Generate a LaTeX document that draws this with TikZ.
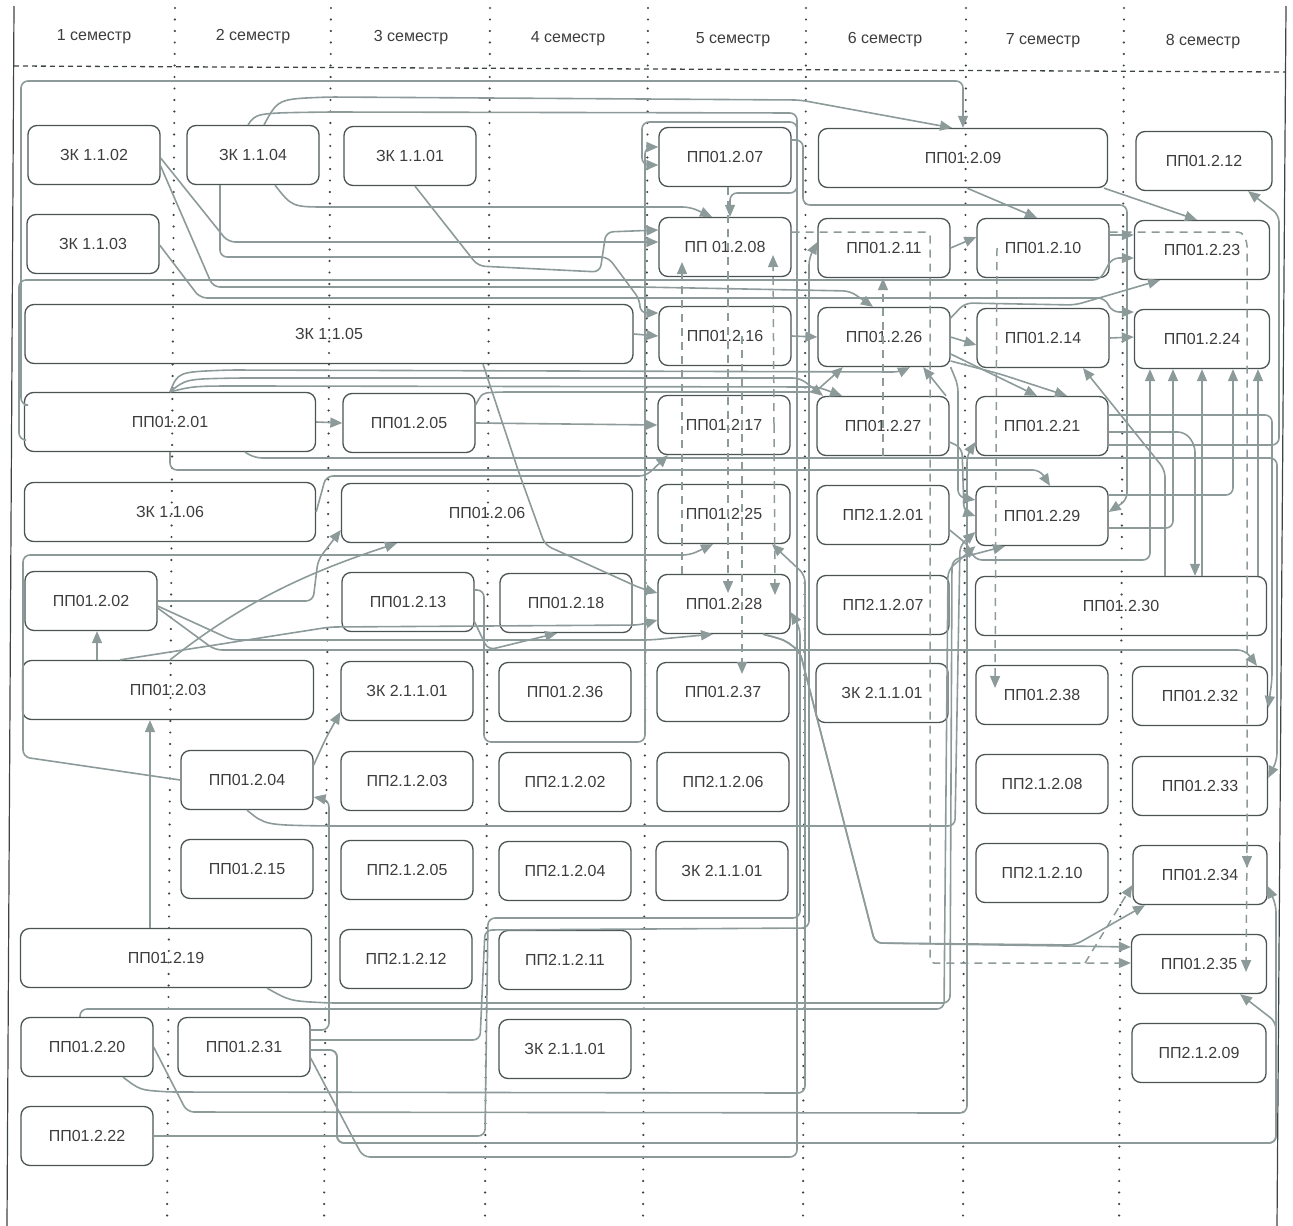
\documentclass[tikz,border=0pt]{standalone}
\usepackage{fontspec}
\setmainfont{Liberation Sans}
\usetikzlibrary{arrows.meta}
\definecolor{frameK}{HTML}{3E4444}
\definecolor{boxK}{HTML}{4B5353}
\definecolor{txtK}{HTML}{3D3D3D}
\definecolor{lnK}{HTML}{8D9A9A}

\tikzset{
  blk/.style={draw=boxK, line width=1.3pt, rounded corners=9pt, minimum width=132pt,
              minimum height=59pt, inner sep=0pt, text=txtK, font=\fontsize{16}{19}\selectfont},
  wblk/.style={blk, minimum width=291pt},
  sem/.style={text=txtK, font=\fontsize{16}{19}\selectfont},
  divl/.style={draw=frameK, line width=2.4pt, line cap=round, dash pattern=on 0pt off 11.5pt},
  link/.style={draw=lnK, line width=1.6pt, rounded corners=7pt},
  arr/.style={link, -{Triangle[length=12pt,width=10pt]}},
  dlink/.style={draw=lnK, line width=1.5pt, dash pattern=on 8pt off 6pt, rounded corners=4pt},
  darr/.style={dlink, -{Triangle[length=12pt,width=10pt]}},
}

\begin{document}
\begin{tikzpicture}[x=1pt,y=-1pt]
\useasboundingbox (0,0) rectangle (1293,1226);

% frame and columns
\draw[frameK, line width=1.2pt] (14,6) -- (7,1226);
\draw[frameK, line width=1.2pt] (1286,6) -- (1277,1226);
\draw[frameK, line width=1.3pt, dash pattern=on 5pt off 4pt] (14,66) -- (1286,72);
\foreach \xa/\xb in {175/167,331/324,490/485,648/643,806/803,966/963,1124/1119}
  \draw[divl] (\xa,8) -- (\xb,1226);

\node[sem] (s1) at (94,37) {1 семестр};
\node[sem] (s2) at (253,37) {2 семестр};
\node[sem] (s3) at (411,38) {3 семестр};
\node[sem] (s4) at (568,39) {4 семестр};
\node[sem] (s5) at (733,40) {5 семестр};
\node[sem] (s6) at (885,40) {6 семестр};
\node[sem] (s7) at (1043,41) {7 семестр};
\node[sem] (s8) at (1203,42) {8 семестр};

% semester 1
\node[blk] (zk102) at (94,155) {ЗК 1.1.02};
\node[blk] (zk103) at (93,244) {ЗК 1.1.03};
\node[blk, minimum width=608pt] (zk105) at (329,334) {ЗК 1.1.05};
\node[wblk] (pp201) at (170,422) {ПП01.2.01};
\node[wblk] (zk106) at (170,512) {ЗК 1.1.06};
\node[blk] (pp202) at (91,601) {ПП01.2.02};
\node[wblk] (pp203) at (168,690) {ПП01.2.03};
\node[wblk] (pp219) at (166,958) {ПП01.2.19};
\node[blk] (pp220) at (87,1047) {ПП01.2.20};
\node[blk] (pp222) at (87,1136) {ПП01.2.22};
% semester 2
\node[blk] (zk104) at (253,155) {ЗК 1.1.04};
\node[blk] (pp204) at (247,780) {ПП01.2.04};
\node[blk] (pp215) at (247,869) {ПП01.2.15};
\node[blk] (pp231) at (244,1047) {ПП01.2.31};
% semester 3
\node[blk] (zk101) at (410,156) {ЗК 1.1.01};
\node[blk] (pp205) at (409,423) {ПП01.2.05};
\node[wblk] (pp206) at (487,513) {ПП01.2.06};
\node[blk] (pp213) at (408,602) {ПП01.2.13};
\node[blk] (zkc3) at (407,691) {ЗК 2.1.1.01};
\node[blk] (pq203) at (407,781) {ПП2.1.2.03};
\node[blk] (pq205) at (407,870) {ПП2.1.2.05};
\node[blk] (pq212) at (406,959) {ПП2.1.2.12};
% semester 4
\node[blk] (pp218) at (566,603) {ПП01.2.18};
\node[blk] (pp236) at (565,692) {ПП01.2.36};
\node[blk] (pq202) at (565,782) {ПП2.1.2.02};
\node[blk] (pq204) at (565,871) {ПП2.1.2.04};
\node[blk] (pq211) at (565,960) {ПП2.1.2.11};
\node[blk] (zkc4) at (565,1049) {ЗК 2.1.1.01};
% semester 5
\node[blk] (pp207) at (725,157) {ПП01.2.07};
\node[blk] (pp208) at (725,247) {ПП 01.2.08};
\node[blk] (pp216) at (725,336) {ПП01.2.16};
\node[blk] (pp217) at (724,425) {ПП01.2.17};
\node[blk] (pp225) at (724,514) {ПП01.2.25};
\node[blk] (pp228) at (724,604) {ПП01.2.28};
\node[blk] (pp237) at (723,692) {ПП01.2.37};
\node[blk] (pq206) at (723,782) {ПП2.1.2.06};
\node[blk] (zkc5) at (722,871) {ЗК 2.1.1.01};
% semester 6
\node[blk, minimum width=289pt] (pp209) at (963,158) {ПП01.2.09};
\node[blk] (pp211) at (884,248) {ПП01.2.11};
\node[blk] (pp226) at (884,337) {ПП01.2.26};
\node[blk] (pp227) at (883,426) {ПП01.2.27};
\node[blk] (pq201) at (883,515) {ПП2.1.2.01};
\node[blk] (pq207) at (883,605) {ПП2.1.2.07};
\node[blk] (zkc6) at (882,693) {ЗК 2.1.1.01};
% semester 7
\node[blk] (pp210) at (1043,248) {ПП01.2.10};
\node[blk] (pp214) at (1043,338) {ПП01.2.14};
\node[blk] (pp221) at (1042,426) {ПП01.2.21};
\node[blk] (pp229) at (1042,516) {ПП01.2.29};
\node[wblk] (pp230) at (1121,606) {ПП01.2.30};
\node[blk] (pp238) at (1042,695) {ПП01.2.38};
\node[blk] (pq208) at (1042,784) {ПП2.1.2.08};
\node[blk] (pq210) at (1042,873) {ПП2.1.2.10};
% semester 8
\node[blk, minimum width=136pt] (pp212) at (1204,161) {ПП01.2.12};
\node[blk, minimum width=135pt] (pp223) at (1202,250) {ПП01.2.23};
\node[blk, minimum width=135pt] (pp224) at (1202,339) {ПП01.2.24};
\node[blk, minimum width=135pt] (pp232) at (1200,696) {ПП01.2.32};
\node[blk, minimum width=135pt] (pp233) at (1200,786) {ПП01.2.33};
\node[blk, minimum width=134pt] (pp234) at (1200,875) {ПП01.2.34};
\node[blk, minimum width=135pt] (pp235) at (1199,964) {ПП01.2.35};
\node[blk, minimum width=134pt] (pq209) at (1199,1053) {ПП2.1.2.09};

\coordinate (d28a) at (728,593);
\coordinate (d28b) at (775,595);
\coordinate (d37) at (742,674);
\coordinate (d08a) at (682,262);
\coordinate (d08b) at (773,255);
\coordinate (d34) at (1247,868);
\coordinate (d35) at (1246,972);
\coordinate (d38) at (995,688);
\coordinate (dj) at (1085,963);

% top band
\draw[arr] (pp201.west |- 0,405) -- (21,405) -- (21,81) -- (963,81) -- (pp209.north -| 963,0);
\draw[arr] (zk104.north -| 264,0) .. controls (278,99) .. (330,97) -- (800,100) -- (pp209.north -| 952,0);
\draw[arr] (zk104.north -| 248,0) .. controls (256,113) .. (330,112) -- (797,113) -- (797,193) -- (730,193) -- (pp208.north -| 730,0);
\draw[arr] (zk104.south -| 275,0) .. controls (292,207) .. (335,207) -- (690,207) -- (pp208.north -| 712,0);
\draw[arr] (zk104.south -| 220,0) -- (220,257) -- (608,257) -- (640,300) -- (640,313) -- (pp216.west |- 0,313);
\draw[arr] (zk102.east |- 0,158) -- (228,242) -- (pp208.west |- 0,242);
\draw[arr] (zk101.south -| 415,0) -- (478,266) -- (600,272) -- (606,232) -- (pp208.west |- 0,230);
\draw[arr] (zk102.east |- 0,166) -- (213,287) -- (640,287) -- (850,291) -- (pp226.north -| 873,0);
\draw[arr] (zk103.east |- 0,245) -- (200,298) -- (1105,298) -- (1112,312) -- (pp224.west |- 0,312);
\draw[arr] (pp201.west |- 0,440) -- (19,440) -- (19,280) -- (1100,280) -- (1112,258) -- (pp223.west |- 0,258);
\draw[arr] (pp207.east |- 0,140) -- (803,140) -- (803,205) -- (1127,205) -- (1127,500) -- (pp229.east |- 0,512);

% middle, semesters 5 to 8
\draw[arr] (zk105.east) -- (pp216.west);
\draw[arr] (pp216.east) -- (pp226.west);
\draw[arr] (pp211.east) -- (pp210.west |- 0,237);
\draw[arr] (pp209.south -| 967,0) -- (pp210.north -| 1037,0);
\draw[arr] (pp209.south -| 1104,0) -- (pp223.north -| 1197,0);
\draw[arr] (pp210.east |- 0,235) -- (pp223.west |- 0,235);
\draw[arr] (pp214.east) -- (pp224.west |- 0,337);
\draw[arr] (pp226.east) -- (pp214.west |- 0,345);
\draw[arr] (pp226.east |- 0,318) -- (965,303) -- (1075,305) -- (pp223.south -| 1160,0);
\draw[arr] (pp226.east |- 0,354) -- (pp221.north -| 1037,0);
\draw[arr] (pp226.east |- 0,361) -- (1000,374) -- (pp221.north -| 1067,0);
\draw[arr] (pp227.north -| 946,0) -- (pp226.south -| 923,0);
\draw[arr] (pp230.north -| 1165,0) -- (1165,470) -- (pp214.south -| 1083,0);
\draw[arr] (pp221.east |- 0,445) -- (1279,445) -- (1279,215) -- (pp212.south -| 1248,0);
\draw[arr] (pp221.east |- 0,415) -- (1272,415) -- (1272,680) -- (pp232.east |- 0,708);
\draw[arr] (pp201.south -| 245,0) -- (255,458) -- (1277,458) -- (1277,760) -- (pp233.east |- 0,778);
\draw[arr] (pp202.east |- 0,608) -- (215,650) -- (1245,650) -- (pp232.north -| 1257,0);
\draw[arr] (pp221.east |- 0,432) -- (1185,432) -- (1195,445) -- (pp230.north -| 1195,0);
\draw[arr] (pq201.east |- 0,530) -- (968,545) -- (975,560) -- (1150,560) -- (pp224.south -| 1150,0);
\draw[arr] (pp229.east |- 0,528) -- (1173,528) -- (pp224.south -| 1173,0);
\draw[arr] (pp230.north -| 1202,0) -- (pp224.south -| 1202,0);
\draw[arr] (pp229.east |- 0,495) -- (1233,495) -- (pp224.south -| 1233,0);
\draw[arr] (pp230.north -| 1258,0) -- (pp224.south -| 1258,0);

% from semester 1
\draw[arr] (pp201.north) .. controls (178,372) .. (230,370) -- (900,372) -- (pp226.south -| 910,0);
\draw[arr] (pp201.north) .. controls (186,379) .. (240,378) -- (800,378) -- (pp227.north -| 823,0);
\draw[arr] (pp201.north) .. controls (194,386) .. (250,386) -- (818,387) -- (pp227.north -| 842,0);
\draw[arr] (pp205.east |- 0,405) .. controls (482,393) .. (500,392) -- (815,392) -- (pp226.south -| 843,0);
\draw[arr] (pp201.east) -- (pp205.west);
\draw[arr] (pp205.east) -- (pp217.west);
\draw[arr] (pp201.south) -- (170,470) -- (1040,470) -- (pp229.north -| 1050,0);
\draw[arr] (zk106.east) -- (326,476) -- (646,476) -- (pp217.south -| 668,0);
\draw[arr] (pp203.north -| 97,0) -- (pp202.south -| 97,0);
\draw[arr] (pp219.north -| 150,0) -- (pp203.south -| 150,0);
\draw[arr] (pp202.east) -- (313,601) -- (318,560) -- (pp206.west |- 0,530);
\draw[arr] (pp202.east |- 0,606) -- (232,640) -- (650,640) -- (pp228.south -| 713,0);
\draw[arr] (pp203.north -| 170,0) .. controls (240,605) and (300,575) .. (pp206.south -| 397,0);
\draw[arr] (pp203.north -| 120,0) -- (330,627) -- (640,625) -- (pp228.west |- 0,620);
\draw[arr] (pp213.east |- 0,622) -- (488,650) -- (pp218.south -| 557,0);
\draw[arr] (pp213.east |- 0,590) -- (484,590) -- (484,742) -- (645,742) -- (645,147) -- (pp207.west |- 0,147);
\draw[arr] (zk105.south -| 483,0) -- (518,470) -- (545,545) -- (640,588) -- (pp228.west |- 0,593);
\draw[arr] (pp204.west) -- (23,757) -- (23,555) -- (690,555) -- (pp225.south -| 713,0);
\draw[arr] (pp204.east |- 0,765) -- (326,738) -- (zkc3.west |- 0,712);
\draw[arr] (pp231.east |- 0,1030) -- (329,1030) -- (329,800) -- (pp204.east |- 0,797);
\draw[arr] (pp204.south) .. controls (265,825) .. (330,826) -- (955,826) -- (960,545) -- (pp229.west |- 0,532);
\draw[arr] (pp226.south east) -- (958,385) -- (958,497) -- (pp229.west |- 0,500);
\draw[arr] (pp227.east |- 0,442) -- (962,448) -- (964,512) -- (pp229.west |- 0,516);

% bottom band
\draw[arr] (pp219.south -| 267,0) .. controls (290,1001) .. (330,1003) -- (950,1003) -- (952,560) -- (pp229.south -| 1005,0);
\draw[arr] (pp220.north -| 80,0) -- (80,1009) -- (944,1009) -- (948,570) -- (pp229.south west);
\draw[arr] (pp220.south -| 123,0) .. controls (140,1090) .. (170,1092) -- (805,1093) -- (805,575) -- (pp225.south -| 772,0);
\draw[arr] (pp220.east) -- (187,1112) -- (967,1113) -- (967,455) -- (pp221.west |- 0,442);
\draw[arr] (pp222.east) -- (485,1136) -- (488,918) -- (800,918) -- (800,628) -- (pp228.east |- 0,612);
\draw[arr] (pp231.east |- 0,1040) -- (480,1040) -- (485,930) -- (809,928) -- (809,258) -- (pp211.west |- 0,242);
\draw[arr] (pp231.east |- 0,1050) -- (337,1050) -- (337,1143) -- (1276,1143) -- (1276,905) -- (pp234.east |- 0,886);
\draw[arr] (pp231.east |- 0,1050) -- (337,1050) -- (337,1143) -- (1276,1143) -- (1276,1022) -- (pp235.south -| 1240,0);
\draw[arr] (pp231.east |- 0,1058) -- (363,1157) -- (797,1157) -- (797,122) -- (642,122) -- (642,165) -- (pp207.west |- 0,165);
\draw[arr] (pp228.south -| 763,0) .. controls (785,640) .. (800,652) -- (875,943) -- (pp235.west |- 0,947);
\draw[arr] (pp228.south -| 763,0) .. controls (785,640) .. (800,652) -- (875,943) -- (1075,945) -- (pp234.south -| 1145,0);

% dashed links
\draw[darr] (pp207.south -| 728,0) -- (d28a);
\draw[darr] (pp216.center -| 742,0) -- (d37);
\draw[darr] (pp217.center -| 774,0) -- (d08b);
\draw[darr] (pp217.center -| 774,0) -- (d28b);
\draw[darr] (pp228.north -| 682,0) -- (d08a);
\draw[darr] (pp208.east |- 0,232) -- (930,232) -- (930,963) -- (pp235.west |- 0,963);
\draw[darr] (dj) -- (pp234.west |- 0,885);
\draw[darr] (pp210.east |- 0,232) -- (1242,232) -- (1247,242) -- (d34);
\draw[darr] (pp234.north -| 1247,0) -- (d35);
\draw[darr] (pp210.center -| 997,0) -- (d38);
\draw[darr] (pp227.south -| 883,0) -- (pp211.south -| 883,0);
\end{tikzpicture}
\end{document}
